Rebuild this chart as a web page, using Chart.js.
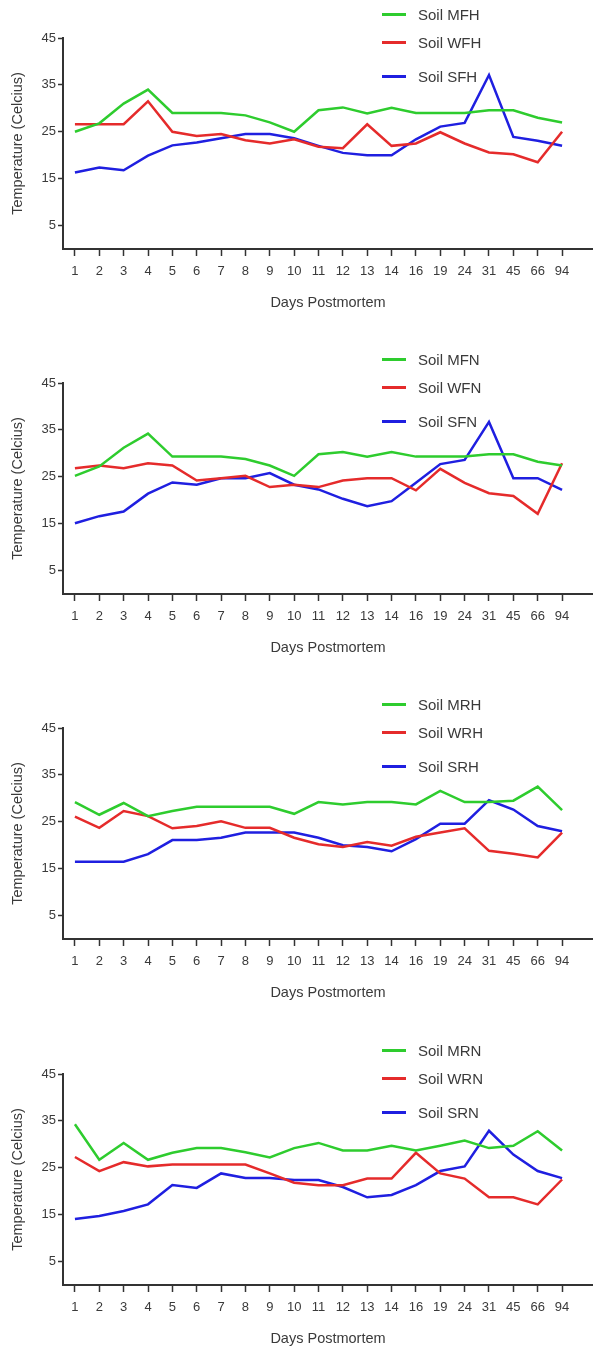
<!DOCTYPE html>
<html lang="en">
<head>
<meta charset="UTF-8" />
<title>Soil temperature - days postmortem</title>
<script src="https://cdn.jsdelivr.net/npm/chart.js"></script>
<style>
  body { margin: 0; background: #fff; width: 593px; height: 1349px; overflow: hidden; position: relative;
         font-family: "Liberation Sans", Arial, sans-serif; color: #3a3a3a; }
  .panel { position: absolute; left: 0; width: 593px; height: 315px; }
  .panel canvas { position: absolute; left: 0; top: 0; }
  .item { position: absolute; left: 382px; height: 20px; width: 120px; }
  .item .swatch { position: absolute; left: 0; top: 8px; width: 24px; height: 3px; }
  .item .label { position: absolute; left: 36px; top: 0; line-height: 20px; font-size: 15px; white-space: nowrap; }
</style>
</head>
<body>

<script>
// x categories (days postmortem) and y ticks
const days = ['1', '2', '3', '4', '5', '6', '7', '8', '9', '10', '11', '12', '13', '14', '16', '19', '24', '31', '45', '66', '94'];
const tempTicks = [5, 15, 25, 35, 45];

// panel 1
const soilMFH = [25.0, 26.8, 31.0, 34.0, 29.0, 29.0, 29.0, 28.5, 27.0, 25.0, 29.6, 30.2, 28.9, 30.1, 29.0, 29.0, 29.0, 29.6, 29.6, 28.0, 27.0];
const soilWFH = [26.6, 26.6, 26.6, 31.5, 25.0, 24.1, 24.5, 23.2, 22.5, 23.4, 21.8, 21.5, 26.6, 22.0, 22.5, 24.9, 22.5, 20.6, 20.2, 18.5, 25.0];
const soilSFH = [16.3, 17.4, 16.8, 19.9, 22.1, 22.7, 23.6, 24.5, 24.5, 23.6, 22.0, 20.5, 20.0, 20.0, 23.4, 26.1, 26.9, 37.1, 23.9, 23.1, 22.0];
// panel 2
const soilMFN = [25.2, 27.2, 31.2, 34.2, 29.3, 29.3, 29.3, 28.8, 27.4, 25.2, 29.8, 30.3, 29.3, 30.3, 29.3, 29.3, 29.3, 29.8, 29.8, 28.2, 27.4];
const soilWFN = [26.8, 27.4, 26.8, 27.9, 27.4, 24.2, 24.7, 25.2, 22.8, 23.3, 22.8, 24.2, 24.7, 24.7, 22.1, 26.7, 23.7, 21.5, 20.9, 17.1, 27.9];
const soilSFN = [15.1, 16.6, 17.6, 21.4, 23.8, 23.3, 24.7, 24.7, 25.8, 23.3, 22.3, 20.3, 18.7, 19.8, 23.7, 27.7, 28.6, 36.7, 24.7, 24.7, 22.2];
// panel 3
const soilMRH = [29.2, 26.5, 29.0, 26.2, 27.3, 28.2, 28.2, 28.2, 28.2, 26.7, 29.2, 28.7, 29.2, 29.2, 28.7, 31.6, 29.2, 29.2, 29.5, 32.5, 27.5];
const soilWRH = [26.1, 23.7, 27.3, 26.2, 23.6, 24.1, 25.1, 23.7, 23.7, 21.6, 20.2, 19.6, 20.7, 19.9, 21.8, 22.7, 23.6, 18.8, 18.2, 17.4, 22.7];
const soilSRH = [16.5, 16.5, 16.5, 18.1, 21.1, 21.1, 21.6, 22.7, 22.7, 22.7, 21.6, 20.0, 19.6, 18.7, 21.3, 24.6, 24.6, 29.6, 27.6, 24.1, 23.0];
// panel 4
const soilMRN = [34.3, 26.7, 30.3, 26.7, 28.2, 29.2, 29.2, 28.3, 27.2, 29.2, 30.3, 28.7, 28.7, 29.7, 28.7, 29.7, 30.8, 29.2, 29.7, 32.8, 28.7];
const soilWRN = [27.3, 24.3, 26.2, 25.3, 25.7, 25.7, 25.7, 25.7, 23.8, 21.8, 21.3, 21.3, 22.7, 22.7, 28.2, 23.8, 22.7, 18.7, 18.7, 17.2, 22.5];
const soilSRN = [14.1, 14.7, 15.8, 17.2, 21.3, 20.7, 23.8, 22.8, 22.8, 22.4, 22.4, 20.9, 18.7, 19.2, 21.3, 24.3, 25.3, 32.9, 27.8, 24.3, 22.8];

const panelNames = [
  ['Soil MFH', 'Soil WFH', 'Soil SFH'],
  ['Soil MFN', 'Soil WFN', 'Soil SFN'],
  ['Soil MRH', 'Soil WRH', 'Soil SRH'],
  ['Soil MRN', 'Soil WRN', 'Soil SRN']
];
const panelSeries = [
  [soilMFH, soilWFH, soilSFH],
  [soilMFN, soilWFN, soilSFN],
  [soilMRH, soilWRH, soilSRH],
  [soilMRN, soilWRN, soilSRN]
];

const cores = ['#2ecc2e', '#e52b2b', '#1f1fe0'];
const panelTops = [0, 345, 690, 1036];
const legendTops = [5, 33, 67];
const fonte = '"Liberation Sans", Arial, sans-serif';
const corTexto = '#3a3a3a';

function desenhaPainel(p) {
  const div = document.createElement('div');
  div.className = 'panel';
  div.style.top = panelTops[p] + 'px';
  const canvas = document.createElement('canvas');
  canvas.width = 593;
  canvas.height = 315;
  div.appendChild(canvas);

  // legend as html
  panelNames[p].forEach(function (nome, i) {
    const item = document.createElement('div');
    item.className = 'item';
    item.style.top = legendTops[i] + 'px';
    item.innerHTML = '<span class="swatch" style="background:' + cores[i] + '"></span><span class="label">' + nome + '</span>';
    div.appendChild(item);
  });
  document.body.appendChild(div);

  const datasets = panelSeries[p].map(function (valores, i) {
    return {
      label: panelNames[p][i],
      data: valores.map(function (v, k) { return { x: k, y: v }; }),
      borderColor: cores[i],
      backgroundColor: cores[i],
      borderWidth: 2.5,
      pointRadius: 0,
      tension: 0,
      fill: false
    };
  });

  new Chart(canvas, {
    type: 'line',
    data: { datasets: datasets },
    options: {
      responsive: false,
      animation: false,
      layout: { padding: { top: 38, left: 0, right: 0, bottom: 0 } },
      plugins: { legend: { display: false }, tooltip: { enabled: false } },
      scales: {
        x: {
          type: 'linear',
          min: -0.49,
          max: 21.27,
          bounds: 'data',
          afterBuildTicks: function (s) { s.ticks = days.map(function (d, i) { return { value: i }; }); },
          afterFit: function (s) { s.height = 66; },
          ticks: {
            callback: function (v) { return days[v]; },
            autoSkip: false, maxRotation: 0, padding: 8,
            color: corTexto, font: { family: fonte, size: 13 }
          },
          grid: { drawOnChartArea: false, drawTicks: true, tickLength: 7, tickColor: '#333', tickWidth: 1.5 },
          border: { display: true, color: '#333', width: 2 },
          title: {
            display: true, text: 'Days Postmortem', color: corTexto,
            font: { family: fonte, size: 14.5 }, padding: { top: 0, bottom: 3 }
          }
        },
        y: {
          min: 0,
          max: 45,
          afterBuildTicks: function (s) { s.ticks = tempTicks.map(function (t) { return { value: t }; }); },
          afterFit: function (s) { s.width = 63; },
          ticks: { padding: 2, color: corTexto, font: { family: fonte, size: 13 } },
          grid: { drawOnChartArea: false, drawTicks: true, tickLength: 5, tickColor: '#333', tickWidth: 1.5 },
          border: { display: true, color: '#333', width: 2 },
          title: {
            display: true, text: 'Temperature (Celcius)', color: corTexto,
            font: { family: fonte, size: 14.5 }, padding: { top: 9, bottom: 0 }
          }
        }
      }
    }
  });
}

for (let p = 0; p < 4; p++) {
  desenhaPainel(p);
}
</script>
</body>
</html>
